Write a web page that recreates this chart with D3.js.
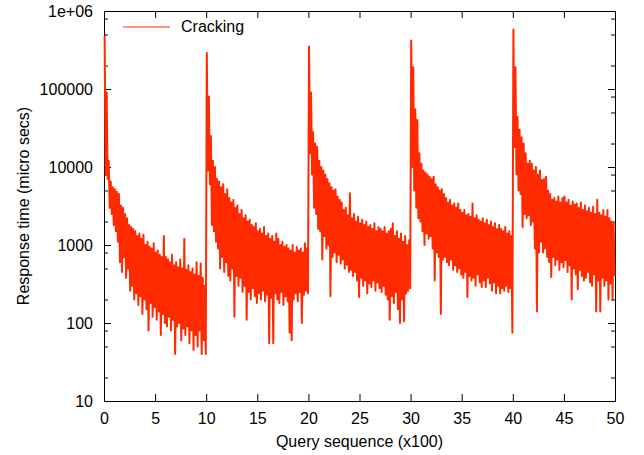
<!DOCTYPE html>
<html>
<head>
<meta charset="utf-8">
<script src="https://cdn.jsdelivr.net/npm/d3@7"></script>
<style>
  body { margin: 0; background: #fff; }
  svg { display: block; font-family: "Liberation Sans", Arial, Helvetica, sans-serif; }
</style>
</head>
<body>
<div id="chart"></div>
<script>
const width = 644
const height = 455
const margin = { top: 11, right: 29, bottom: 54, left: 104 }

// response times (micro secs), one value every 10 queries (0.1 on the x axis)
const crack0 = [
  480000, 8000, 90000, 7000, 12000, 3000, 6500, 2500, 5500, 1800,
  5200, 1500, 4800, 1100, 4500, 600, 3200, 450, 3000, 700,
  2500, 380, 2200, 500, 1800, 260, 1700, 300, 1600, 200,
  1500, 240, 1300, 170, 1400, 220, 1200, 130, 1350, 200,
  1000, 150, 1100, 80, 950, 180, 900, 120, 1050, 160,
  800, 110, 850, 140, 750, 70, 700, 130, 1300, 100,
  700, 90, 650, 120, 600, 80, 750, 110, 550, 40,
  600, 90, 520, 100, 650, 60, 500, 85, 1200, 70,
  480, 90, 550, 55, 450, 80, 500, 45, 420, 70,
  600, 50, 400, 80, 580, 40, 380, 60, 300, 40
]
const crack1 = [
  290000, 9000, 80000, 6000, 25000, 1800, 12000, 1500, 10000, 1100,
  7000, 900, 6500, 500, 5500, 700, 6000, 450, 4500, 600,
  5200, 400, 4000, 350, 3500, 500, 3800, 120, 3000, 400,
  3200, 300, 2500, 380, 2800, 250, 2200, 300, 2400, 110,
  2000, 250, 2100, 200, 1800, 280, 1700, 220, 1900, 180,
  1500, 240, 1600, 200, 1400, 260, 1700, 190, 1300, 230,
  1400, 55, 1200, 210, 1300, 55, 1100, 240, 1400, 200,
  1200, 180, 1000, 250, 1100, 170, 950, 220, 1000, 190,
  900, 75, 850, 60, 1000, 200, 800, 240, 950, 190,
  850, 250, 900, 100, 800, 230, 1050, 260, 900, 240
]
const crack2 = [
  350000, 15000, 90000, 8000, 28000, 3000, 20000, 2500, 18000, 1600,
  12000, 1500, 10000, 650, 9000, 1300, 8000, 900, 7000, 1000,
  6200, 220, 5500, 700, 5000, 800, 5200, 600, 4200, 750,
  3800, 580, 3500, 650, 2800, 500, 3000, 560, 2400, 450,
  4600, 480, 2200, 400, 2500, 450, 2000, 350, 2300, 215,
  1900, 380, 2100, 300, 1800, 350, 2000, 240, 1700, 320,
  1800, 290, 1600, 350, 1900, 260, 1500, 330, 1700, 280,
  1600, 250, 1500, 300, 1700, 230, 1400, 200, 1500, 110,
  1600, 220, 1900, 180, 1300, 250, 1500, 150, 1200, 100,
  1400, 200, 1100, 105, 1300, 240, 1000, 260, 1150, 280
]
const crack3 = [
  420000, 10000, 190000, 5000, 55000, 3000, 40000, 2200, 15000, 2000,
  11000, 1500, 9000, 1000, 8500, 1400, 8000, 1200, 7500, 1300,
  7000, 900, 7500, 350, 6000, 800, 5500, 700, 5000, 130,
  5200, 650, 4500, 700, 4000, 600, 3500, 550, 3800, 650,
  3200, 480, 3400, 550, 3000, 450, 3400, 500, 2800, 420,
  2600, 380, 2800, 450, 2400, 215, 2500, 400, 2300, 350,
  3400, 380, 2200, 300, 2400, 420, 2100, 330, 2000, 290,
  2200, 350, 1900, 290, 2100, 380, 1800, 320, 2000, 260,
  1700, 330, 1900, 240, 1600, 300, 1800, 240, 1600, 280,
  1500, 260, 1700, 300, 1400, 250, 1500, 280, 1300, 75
]
const crack4 = [
  580000, 18000, 190000, 8000, 44000, 5000, 30000, 4500, 24000, 1700,
  20000, 2500, 15000, 2200, 11000, 2400, 12000, 1800, 11000, 2000,
  9000, 900, 10000, 140, 8000, 800, 9000, 1100, 6800, 800,
  7000, 900, 7500, 700, 5000, 600, 4500, 390, 3800, 700,
  4000, 550, 3600, 650, 4200, 480, 3500, 600, 4000, 520,
  4200, 640, 3500, 450, 3800, 550, 3200, 200, 3600, 500,
  3300, 420, 3400, 270, 3000, 480, 3500, 400, 2800, 350,
  3200, 380, 2700, 450, 3000, 330, 2600, 300, 3100, 420,
  2500, 140, 3800, 350, 2600, 140, 2400, 380, 2800, 300,
  2300, 350, 2800, 200, 2200, 320, 2000, 200, 1900, 400
]
const segments = [crack0, crack1, crack2, crack3, crack4]
const queriesPerSegment = 1000
const queriesPerValue = 10

const xTicks = [0, 5, 10, 15, 20, 25, 30, 35, 40, 45, 50]
const yTicks = [10, 100, 1000, 10000, 100000, 1000000]
const yTickLabels = ["10", "100", "1000", "10000", "100000", "1e+06"]
const yMinorTicks = [20, 50, 80, 200, 500, 800, 2000, 5000, 8000, 20000, 50000, 80000,
  200000, 500000, 800000]
const seriesName = "Cracking"
const xTitle = "Query sequence (x100)"
const yTitle = "Response time (micro secs)"
const lineColor = "#ff2a00"

const iW = width - margin.left - margin.right
const iH = height - margin.top - margin.bottom

const svg = d3.select("#chart").append("svg")
  .attr("width", width).attr("height", height)

const x = d3.scaleLinear().domain([0, 50]).range([margin.left, margin.left + iW])
const y = d3.scaleLog().domain([10, 1e6]).range([margin.top + iH, margin.top])

// points: query number (x100) -> response time
const points = []
segments.forEach((seg, s) => {
  seg.forEach((v, i) => {
    const q = s * queriesPerSegment + i * queriesPerValue + 6
    points.push([q / 100, v])
  })
})

// axes, ticks pointing inwards
const fontSize = 16
function styleAxis(g) {
  g.select(".domain").remove()
  g.selectAll(".tick line").attr("stroke", "#000")
  g.selectAll("text").attr("font-size", fontSize).attr("fill", "#000")
    .attr("font-family", "Liberation Sans, Arial, Helvetica, sans-serif")
}

svg.append("g")
  .attr("transform", `translate(0,${margin.top + iH})`)
  .call(d3.axisBottom(x).tickValues(xTicks).tickSize(-7).tickPadding(12).tickFormat(d3.format("d")))
  .call(styleAxis)
svg.append("g")
  .attr("transform", `translate(0,${margin.top})`)
  .call(d3.axisTop(x).tickValues(xTicks).tickSize(-7).tickFormat(""))
  .call(styleAxis)
svg.append("g")
  .attr("transform", `translate(${margin.left},0)`)
  .call(d3.axisLeft(y).tickValues(yTicks).tickSize(-7).tickPadding(11)
    .tickFormat((d, i) => yTickLabels[i]))
  .call(styleAxis)
svg.append("g")
  .attr("transform", `translate(${margin.left + iW},0)`)
  .call(d3.axisRight(y).tickValues(yTicks).tickSize(-7).tickFormat(""))
  .call(styleAxis)
svg.append("g")
  .attr("transform", `translate(${margin.left},0)`)
  .call(d3.axisLeft(y).tickValues(yMinorTicks).tickSize(-4).tickFormat(""))
  .call(styleAxis)
svg.append("g")
  .attr("transform", `translate(${margin.left + iW},0)`)
  .call(d3.axisRight(y).tickValues(yMinorTicks).tickSize(-4).tickFormat(""))
  .call(styleAxis)

// frame
svg.append("rect")
  .attr("x", margin.left + 0.5).attr("y", margin.top + 0.5)
  .attr("width", iW).attr("height", iH)
  .attr("fill", "none").attr("stroke", "#000").attr("stroke-width", 1)

// data drawn over the frame, as gnuplot does
svg.append("clipPath").attr("id", "clip")
  .append("rect")
  .attr("x", margin.left - 1).attr("y", margin.top)
  .attr("width", iW + 2).attr("height", iH)

const line = d3.line().x(d => x(d[0])).y(d => y(d[1]))
svg.append("path")
  .datum(points)
  .attr("clip-path", "url(#clip)")
  .attr("fill", "none")
  .attr("stroke", lineColor)
  .attr("stroke-width", 2)
  .attr("stroke-linejoin", "round")
  .attr("d", line)

// titles
svg.append("text")
  .attr("x", margin.left + iW / 2).attr("y", 447)
  .attr("text-anchor", "middle").attr("font-size", fontSize)
  .text(xTitle)
svg.append("text")
  .attr("transform", `translate(29,${margin.top + iH / 2}) rotate(-90)`)
  .attr("text-anchor", "middle").attr("font-size", fontSize)
  .text(yTitle)

// legend
const legend = svg.append("g")
legend.append("line")
  .attr("x1", 123).attr("x2", 170).attr("y1", 27).attr("y2", 27)
  .attr("stroke", lineColor).attr("stroke-width", 1)
legend.append("text")
  .attr("x", 181).attr("y", 32).attr("font-size", fontSize)
  .text(seriesName)
</script>
</body>
</html>
